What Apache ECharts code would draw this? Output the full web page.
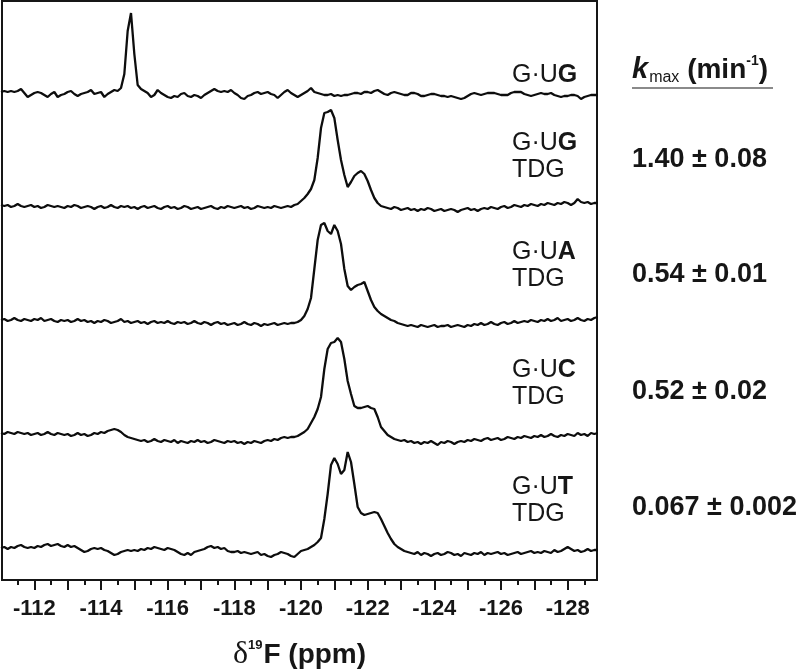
<!DOCTYPE html>
<html>
<head>
<meta charset="utf-8">
<title>19F NMR of G·U substrates with TDG</title>
<script src="https://cdn.jsdelivr.net/npm/echarts@6/dist/echarts.min.js"></script>
<style>
    html, body { margin: 0; padding: 0; background: #fff; }
    #chart { width: 800px; height: 671px; }
</style>
</head>
<body>
<div id="chart"></div>
<script>
    // sampling of the spectra: 0.1 ppm steps from -111.0 ppm upfield
    var ppmStart = -111.0;
    var ppmStep = 0.1;

    // intensities (arbitrary units, baseline = 0)
    var traceGUG = [
        2, 3, 2, 3, 2, 3, 5, 1, -3, -1,
        1, 2, 1, -1, -3, 0, 2, -3, -1, 0,
        2, 3, 0, -2, 0, 1, 2, 4, 0, 1,
        2, -3, 0, 2, 4, 3, 6, 20, 63, 81,
        40, 9, 5, 3, 1, -3, -1, 4, 1, -1,
        -3, -4, -2, -3, 0, 1, -2, -3, -1, -2,
        -4, -1, 1, 3, 5, 3, 2, 3, 2, 4,
        1, -1, -4, -5, -2, -1, 1, 2, 0, 1,
        2, 0, -1, -4, -1, 2, 4, 1, -1, -3,
        -1, 1, 3, 6, 2, 1, 0, -1, -1, 0,
        -2, -1, -2, -1, -1, 0, 1, 1, 0, 2,
        2, 1, 3, 4, 2, 0, -1, 1, 2, 1,
        0, -1, -1, 1, 1, 0, -2, -2, -1, 0,
        0, -1, -2, -2, -3, -2, -3, -4, -5, -4,
        -2, 0, 1, 0, -1, 0, 1, 1, 1, 0,
        -1, -1, -1, 1, 2, 2, 2, 0, -1, -2,
        -1, 0, 1, 0, 0, 1, -1, -2, -3, -2,
        -2, -1, -1, -2, -5, -3, -2, -1, -1, -1
    ];
    var traceGUG_TDG = [
        3, 2, 3, 1, 2, 4, 2, 1, 2, 3,
        1, 2, 0, 1, 3, 2, 1, 2, 1, 0,
        2, 1, 3, 2, 0, 1, 2, 1, -1, 1,
        2, 0, 1, 3, 1, 0, 2, 1, 2, 0,
        1, -1, 1, 2, 0, 1, 2, 0, -1, 1,
        2, 0, 1, -1, 0, 2, 1, -1, 0, 1,
        -1, 0, 1, 2, 0, -1, 1, 0, 2, 1,
        0, 1, 2, 0, 1, -1, 0, 2, 1, 0,
        1, 0, 2, 1, 0, 1, 2, 1, 3, 4,
        7, 10, 14, 19, 28, 50, 80, 95, 96, 98,
        90, 68, 48, 33, 21, 26, 32, 35, 37, 34,
        27, 18, 10, 5, 2, 1, 0, -1, 1, 0,
        -2, -1, 0, -2, -1, -3, -1, -2, 0, -1,
        -3, -2, -1, -3, -2, -1, -2, -4, -2, -1,
        0, -2, -1, -3, -1, 0, -1, 1, 0, -1,
        1, 2, 0, 1, 3, 2, 1, 3, 2, 4,
        3, 2, 4, 3, 5, 4, 3, 5, 4, 6,
        5, 3, 5, 9, 6, 5, 6, 4, 5, 5
    ];
    var traceGUA_TDG = [
        4, 5, 3, 4, 6, 4, 3, 5, 4, 3,
        5, 4, 6, 3, 4, 5, 3, 2, 4, 3,
        4, 2, 3, 5, 3, 4, 2, 3, 1, 3,
        2, 4, 3, 1, 2, 3, 5, 2, 3, 1,
        2, 3, 1, 2, 0, 2, 3, 1, 2, 1,
        3, 1, 0, 2, 1, 2, 0, 1, 3, 1,
        0, 2, 1, -1, 1, 2, 0, 1, -1, 0,
        1, -1, 0, 2, 0, -1, 1, 0, -2, 0,
        -1, 0, 1, -1, 0, 1, 0, 1, 1, 2,
        4, 8, 15, 26, 55, 84, 99, 101, 93, 90,
        99, 93, 80, 55, 38, 34, 37, 39, 40, 42,
        33, 24, 17, 13, 10, 8, 6, 4, 3, 1,
        0, -1, -2, -1, -2, -3, -1, -2, -3, -2,
        -1, -3, -2, -2, -1, -3, -2, -1, -2, -3,
        -1, -2, 0, -1, 1, -1, 0, 2, 0, -1,
        1, 2, 0, 1, 3, 1, 2, 3, 2, 4,
        3, 2, 4, 3, 5, 3, 4, 6, 3, 4,
        5, 3, 4, 6, 4, 3, 5, 4, 6, 7
    ];
    var traceGUC_TDG = [
        6, 5, 7, 6, 5, 7, 6, 5, 6, 4,
        5, 6, 4, 5, 7, 5, 4, 6, 5, 4,
        5, 3, 4, 6, 4, 5, 3, 4, 6, 5,
        7, 6, 8, 9, 10, 9, 7, 4, 2, 1,
        0, -1, -2, -1, -3, -2, 0, -2, -3, -1,
        -2, -3, -1, -4, -2, -3, -4, -2, -3, -1,
        -3, -2, -4, -3, -1, -2, -3, -4, -2, -3,
        -2, -4, -3, -5, -3, -4, -2, -3, -4, -2,
        -1, -2, 0, -1, 1, 2, 1, 2, 2, 3,
        5, 7, 10, 16, 22, 30, 42, 70, 90, 96,
        97, 101, 97, 80, 58, 45, 33, 31, 31, 32,
        33, 31, 30, 22, 12, 8, 4, 2, 0, -1,
        -2, -1, -3, -2, -4, -3, -5, -3, -4, -2,
        -4, -6, -3, -4, -2, -3, -5, -3, -2, -3,
        -1, -2, 0, -1, -2, 0, 1, -1, 0, 1,
        -1, 0, 2, 1, 0, 2, 1, 3, 2, 1,
        3, 2, 4, 2, 3, 5, 3, 2, 4, 3,
        5, 4, 3, 6, 4, 5, 3, 6, 5, 6
    ];
    var traceGUT_TDG = [
        4, 5, 3, 5, 4, 6, 7, 5, 4, 5,
        4, 6, 5, 7, 8, 6, 7, 8, 6, 5,
        7, 5, 6, 4, 2, 0, 1, 3, 4, 3,
        4, 2, 1, -1, -3, -2, 0, 1, 2, 1,
        2, 1, 3, 2, 4, 3, 5, 4, 3, 2,
        4, 3, 2, 0, -2, -3, -1, -3, 0, 1,
        2, 3, 5, 6, 4, 5, 3, 4, 1, 0,
        0, 1, -1, 0, -1, -2, -1, 0, -3, -2,
        -4, -5, -3, -2, 0, -1, -2, -4, -5, -2,
        1, 2, 3, 5, 7, 10, 14, 33, 58, 87,
        94, 88, 78, 82, 100, 90, 68, 45, 39, 37,
        38, 39, 40, 39, 33, 26, 19, 13, 8, 5,
        3, 1, 0, -1, -2, 0, -3, -1, -2, -4,
        -2, -1, -3, -2, 0, -1, -3, -2, -4, -1,
        -2, -3, -1, -2, 0, -3, -1, -2, -1, 0,
        -2, -1, -3, -2, -1, 0, -2, -1, 0, 1,
        -1, 0, -1, 1, 0, -1, 2, 0, 1, 3,
        5, 3, 1, 2, 0, 1, 3, 1, 2, 2
    ];

    var traces = [traceGUG, traceGUG_TDG, traceGUA_TDG, traceGUC_TDG, traceGUT_TDG];
    var pairBase = 'G·U';
    var pairBold = ['G', 'G', 'A', 'C', 'T'];
    var enzyme = ['', 'TDG', 'TDG', 'TDG', 'TDG'];
    var kmaxValues = ['', '1.40 ± 0.08', '0.54 ± 0.01', '0.52 ± 0.02', '0.067 ± 0.002'];

    var tickLabels = [-112, -114, -116, -118, -120, -122, -124, -126, -128];
    var majorTicks = [-112, -113, -114, -115, -116, -117, -118, -119, -120, -121, -122, -123, -124, -125, -126, -127, -128];
    var minorTicks = [-111.5, -112.5, -113.5, -114.5, -115.5, -116.5, -117.5, -118.5, -119.5, -120.5,
        -121.5, -122.5, -123.5, -124.5, -125.5, -126.5, -127.5, -128.5];

    // layout
    var FONT = 'Liberation Sans, Arial, sans-serif';
    var INK = '#161616';
    var xMin = -128.88, xMax = -111.03;
    var plotLeft = 2, plotTop = 1, plotWidth = 595, plotHeight = 579;
    var baselines = [94, 208, 324, 439, 552];   // pixel row of each trace's zero
    var yLow = -10, yHigh = 110;                // 1 unit = 1 px
    var labelY = [75, 143, 252, 370, 487];
    var kmaxY = [0, 160, 275, 392, 508];

    var myChart = echarts.init(document.getElementById('chart'), null, {renderer: 'canvas'});

    // outerBoundsMode 'none' keeps the frame where it is (v6 would shrink it to fit the labels)
    var grids = [{left: plotLeft, top: plotTop, width: plotWidth, height: plotHeight,
        outerBoundsMode: 'none', containLabel: false,
        show: true, borderColor: INK, borderWidth: 2, backgroundColor: 'transparent'}];
    var xAxes = [{
        type: 'value', gridIndex: 0, min: xMin, max: xMax, inverse: true, position: 'bottom',
        axisLine: {show: true, onZero: false, lineStyle: {color: INK, width: 2}},
        axisTick: {show: true, inside: false, length: 10, customValues: majorTicks,
            lineStyle: {color: INK, width: 2}},
        axisLabel: {show: true, customValues: tickLabels, margin: 18, color: INK,
            fontFamily: FONT, fontWeight: 'bold', fontSize: 22},
        splitLine: {show: false},
        name: '{d|δ}{s|19}{f|F (ppm)}',
        nameLocation: 'middle',
        nameGap: 59,
        nameTextStyle: {
            color: INK,
            rich: {
                d: {fontFamily: 'Liberation Serif, serif', fontSize: 32, color: INK, lineHeight: 32},
                s: {fontFamily: FONT, fontSize: 13, fontWeight: 'bold', color: INK, verticalAlign: 'top', lineHeight: 32, padding: [0, 1, 12, 0]},
                f: {fontFamily: FONT, fontSize: 28, fontWeight: 'bold', color: INK, lineHeight: 32}
            }
        }
    }, {
        type: 'value', gridIndex: 0, min: xMin, max: xMax, inverse: true, position: 'bottom',
        axisLine: {show: false},
        axisTick: {show: true, inside: false, length: 5, customValues: minorTicks,
            lineStyle: {color: INK, width: 2}},
        axisLabel: {show: false},
        splitLine: {show: false}
    }];
    var yAxes = [{type: 'value', gridIndex: 0, min: 0, max: 1, show: false}];
    var series = [];
    var graphics = [];

    for (var i = 0; i < traces.length; i++) {
        grids.push({left: plotLeft, width: plotWidth, top: baselines[i] - yHigh, height: yHigh - yLow,
            outerBoundsMode: 'none', containLabel: false});
        xAxes.push({type: 'value', gridIndex: i + 1, min: xMin, max: xMax, inverse: true, show: false});
        yAxes.push({type: 'value', gridIndex: i + 1, min: yLow, max: yHigh, show: false});
        var pts = [];
        for (var j = 0; j < traces[i].length; j++) {
            pts.push([+(ppmStart - j * ppmStep).toFixed(2), traces[i][j]]);
        }
        series.push({
            type: 'line', xAxisIndex: i + 2, yAxisIndex: i + 1, data: pts,
            showSymbol: false, smooth: false, clip: true,
            lineStyle: {color: '#0d0d0d', width: 2.3}
        });

        graphics.push({
            type: 'text', x: 512, y: labelY[i],
            style: {
                text: pairBase + '{b|' + pairBold[i] + '}',
                fontFamily: FONT, fontSize: 25, fill: INK, align: 'left', verticalAlign: 'middle',
                rich: {b: {fontFamily: FONT, fontSize: 25, fontWeight: 'bold', fill: INK}}
            }
        });
        if (enzyme[i]) {
            graphics.push({
                type: 'text', x: 512, y: labelY[i] + 27,
                style: {text: enzyme[i], fontFamily: FONT, fontSize: 25, fill: INK,
                    align: 'left', verticalAlign: 'middle'}
            });
        }
        if (kmaxValues[i]) {
            graphics.push({
                type: 'text', x: 632, y: kmaxY[i],
                style: {text: kmaxValues[i], fontFamily: FONT, fontSize: 27, fontWeight: 'bold',
                    fill: INK, align: 'left', verticalAlign: 'middle'}
            });
        }
    }

    // k_max (min^-1) header and its rule
    graphics.push({
        type: 'text', x: 632, y: 70,
        style: {
            text: '{k|k}{sub|max}{t| (min}{sup|-1}{t|)}',
            align: 'left', verticalAlign: 'middle', fill: INK,
            rich: {
                k: {fontFamily: FONT, fontSize: 29, fontWeight: 'bold', fontStyle: 'italic', fill: INK, lineHeight: 32},
                sub: {fontFamily: FONT, fontSize: 16, fill: INK, verticalAlign: 'bottom', lineHeight: 32, padding: [12, 0, 0, 1]},
                t: {fontFamily: FONT, fontSize: 28, fontWeight: 'bold', fill: INK, lineHeight: 32},
                sup: {fontFamily: FONT, fontSize: 14, fontWeight: 'bold', fill: INK, verticalAlign: 'top', lineHeight: 32, padding: [0, 0, 12, 0]}
            }
        }
    });
    graphics.push({
        type: 'line', shape: {x1: 632, y1: 88, x2: 773, y2: 88},
        style: {stroke: '#8a8a8a', lineWidth: 2}
    });

    myChart.setOption({
        animation: false,
        backgroundColor: '#fff',
        grid: grids,
        xAxis: xAxes,
        yAxis: yAxes,
        series: series,
        graphic: graphics
    });
</script>
</body>
</html>
